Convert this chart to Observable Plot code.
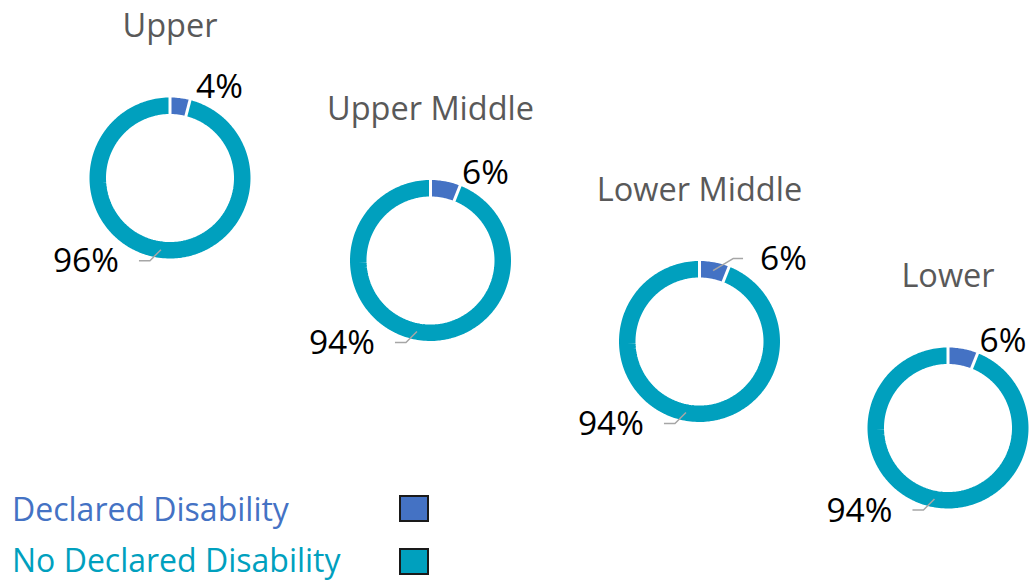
<!DOCTYPE html>
<html><head><meta charset="utf-8">
<script src="https://cdn.jsdelivr.net/npm/d3@7"></script>
<script src="https://cdn.jsdelivr.net/npm/@observablehq/plot@0.6"></script>
<style>
html,body{margin:0;padding:0;background:#fff;}
#wrap{position:relative;width:1031px;height:581px;font-family:"Open Sans",sans-serif;overflow:hidden;}
.lg-text{position:absolute;left:12px;font-size:32px;line-height:32px;white-space:nowrap;}
.lg-sq{position:absolute;left:399px;width:26px;height:23px;border:2px solid #1a1a1a;}
</style></head>
<body><div id="wrap"><div id="chart"></div></div>
<script>
// ---- data ----
const groups = ["Upper", "Upper Middle", "Lower Middle", "Lower"];
const declaredPct = [4, 6, 6, 6];
const noDeclaredPct = [96, 94, 94, 94];
const seriesNames = ["Declared Disability", "No Declared Disability"];
const seriesColors = ["#4472C4", "#00A0BE"];

// ---- layout (placement of each donut on the page) ----
const W = 1031, H = 581;
const CX = [169.5, 430, 699, 947.5];
const CY = [177.5, 260, 341, 427.5];
const centerX = i => CX[i];
const centerY = i => CY[i];
const R_OUT = 80.5, R_IN = 64, R_MID = (R_OUT + R_IN) / 2, RING = R_OUT - R_IN;
const rad = d => d * Math.PI / 180;
const pol = (i, deg, r) => ({x: centerX(i) + r * Math.sin(rad(deg)), y: centerY(i) - r * Math.cos(rad(deg))});
const draggedLabel = {group: "Lower Middle", series: "Declared Disability"};

const slices = [];
groups.forEach((g, i) => {
  const vals = [declaredPct[i], noDeclaredPct[i]];
  const total = d3.sum(vals);
  let a = 0;
  vals.forEach((v, k) => {
    const a0 = a, a1 = a + v / total * 360; a = a1;
    slices.push({group: g, i, series: seriesNames[k], k, value: v, a0, a1, mid: (a0 + a1) / 2});
  });
});

const arcPts = [];
slices.forEach(s => {
  const n = Math.max(8, Math.ceil((s.a1 - s.a0) / 1.5));
  for (let j = 0; j <= n; j++) {
    const p = pol(s.i, s.a0 + (s.a1 - s.a0) * j / n, R_MID);
    arcPts.push({...p, key: s.group + "|" + s.series, series: s.series});
  }
});

const seps = slices.map(s => {
  const p1 = pol(s.i, s.a0, R_IN - 1), p2 = pol(s.i, s.a0, R_OUT + 1);
  return {x1: p1.x, y1: p1.y, x2: p2.x, y2: p2.y};
});

const labels = [], leaders = [];
slices.forEach((s, idx) => {
  const txt = s.value + "%";
  const withLeader = s.k === 1 || (s.group === draggedLabel.group && s.series === draggedLabel.series);
  if (!withLeader) {
    const c = pol(s.i, s.mid + 21.5, 103);
    labels.push({x: c.x, y: c.y, text: txt, anchor: "middle"});
  } else {
    const st = pol(s.i, s.mid, R_MID);
    let el, en, lx, anchor;
    if (s.k === 1) {
      el = {x: st.x - 11, y: st.y + 11};
      en = {x: el.x - 11, y: el.y};
      lx = en.x - 20; anchor = "end";
    } else {
      el = {x: st.x + 20, y: st.y - 12};
      en = {x: el.x + 10, y: el.y};
      lx = en.x + 17; anchor = "start";
    }
    [st, el, en].forEach(p => leaders.push({x: p.x, y: p.y, id: idx}));
    labels.push({x: lx, y: en.y + 1, text: txt, anchor});
  }
});

const titles = groups.map((g, i) => ({x: centerX(i), y: centerY(i) - 141, text: g}));

const chart = Plot.plot({
  width: W, height: H, margin: 0,
  x: {domain: [0, W], range: [0, W], axis: null},
  y: {domain: [0, H], range: [0, H], axis: null},
  color: {domain: seriesNames, range: seriesColors},
  style: {fontFamily: "'Open Sans', sans-serif", background: "white", overflow: "visible"},
  marks: [
    Plot.line(arcPts, {x: "x", y: "y", z: "key", stroke: "series", strokeWidth: RING, strokeLinecap: "butt", strokeLinejoin: "miter", curve: "linear"}),
    Plot.link(seps, {x1: "x1", y1: "y1", x2: "x2", y2: "y2", stroke: "white", strokeWidth: 3}),
    Plot.line(leaders, {x: "x", y: "y", z: "id", stroke: "#a6a6a6", strokeWidth: 1.5, strokeLinecap: "butt"}),
    Plot.text(labels.filter(d => d.anchor === "middle"), {x: "x", y: "y", text: "text", textAnchor: "middle", lineAnchor: "middle", fontSize: 33.5, fill: "#000"}),
    Plot.text(labels.filter(d => d.anchor === "end"), {x: "x", y: "y", text: "text", textAnchor: "end", lineAnchor: "middle", fontSize: 33.5, fill: "#000"}),
    Plot.text(labels.filter(d => d.anchor === "start"), {x: "x", y: "y", text: "text", textAnchor: "start", lineAnchor: "middle", fontSize: 33.5, fill: "#000"}),
    Plot.text(titles, {x: "x", y: "y", text: "text", textAnchor: "middle", lineAnchor: "bottom", fontSize: 32.5, fill: "#595959"})
  ]
});
const wrap = document.getElementById("wrap");
document.getElementById("chart").appendChild(chart);

// legend
const legTops = [492.6, 543.6], sqTops = [495, 548];
seriesNames.forEach((name, k) => {
  const t = document.createElement("div");
  t.className = "lg-text"; t.style.top = legTops[k] + "px"; t.style.color = seriesColors[k];
  t.textContent = name; wrap.appendChild(t);
  const s = document.createElement("div");
  s.className = "lg-sq"; s.style.top = sqTops[k] + "px"; s.style.background = seriesColors[k];
  wrap.appendChild(s);
});
</script>
</body></html>
